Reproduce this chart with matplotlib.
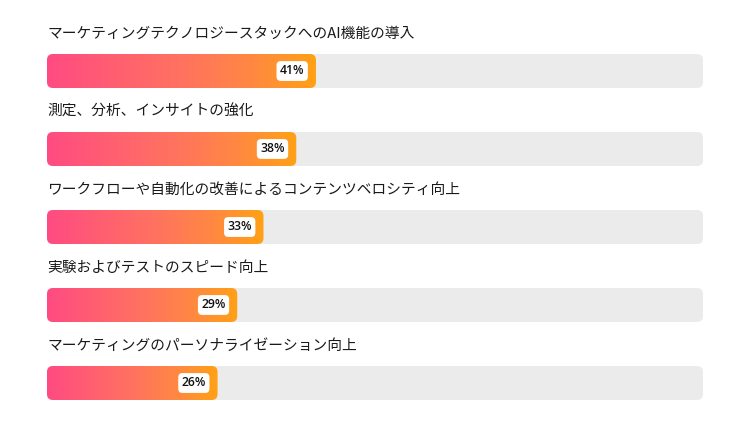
import matplotlib
matplotlib.use("Agg")
import matplotlib.pyplot as plt
import numpy as np
from matplotlib.patches import FancyBboxPatch
from matplotlib.colors import LinearSegmentedColormap

categories = [
    "マーケティングテクノロジースタックへのAI機能の導入",
    "測定、分析、インサイトの強化",
    "ワークフローや自動化の改善によるコンテンツベロシティ向上",
    "実験およびテストのスピード向上",
    "マーケティングのパーソナライゼーション向上",
]
values = [41, 38, 33, 29, 26]
value_labels = ["41%", "38%", "33%", "29%", "26%"]

plt.rcParams['font.family'] = ['Noto Sans CJK JP', 'DejaVu Sans']

W, H = 750, 422
fig = plt.figure(figsize=(W / 100, H / 100), dpi=100)
ax = fig.add_axes([47 / W, 0, 656 / W, 390 / H])
ax.set_xlim(0, 100)
ax.set_ylim(4.5, -0.5)
ax.axis('off')

px_x = 100 / 656.0  # data units per pixel in x
px_y = 5 / 390.0    # data units per pixel in y
aspect = px_y / px_x
bar_h = 34 * px_y
r = 6 * px_x

cmap = LinearSegmentedColormap.from_list(
    "g", [(0, "#FF4B82"), (0.5, "#FF7260"), (0.75, "#FF8744"), (1, "#FFA115")])
grad = np.linspace(0, 1, 256).reshape(1, -1)

for i, (cat, v, lab) in enumerate(zip(categories, values, value_labels)):
    y0 = i - bar_h / 2
    track = FancyBboxPatch((0, y0), 100, bar_h,
                           boxstyle=f"round,pad=0,rounding_size={r}",
                           mutation_aspect=aspect, facecolor="#EBEBEB",
                           edgecolor="none", zorder=1)
    ax.add_patch(track)
    fill = FancyBboxPatch((0, y0), v, bar_h,
                          boxstyle=f"round,pad=0,rounding_size={r}",
                          mutation_aspect=aspect, facecolor="none",
                          edgecolor="none", zorder=2)
    ax.add_patch(fill)
    im = ax.imshow(grad, cmap=cmap, aspect='auto',
                   extent=(0, v, y0 + bar_h, y0), zorder=2,
                   interpolation='bilinear')
    im.set_clip_path(fill)
    ax.text(0, i - 37 * px_y, cat, fontsize=10.6, color="#1a1a1a",
            va='center', ha='left', clip_on=False)
    ax.annotate(lab, xy=(v, i), xytext=(-8.3, 0), textcoords='offset points',
                ha='right', va='center', fontsize=8.8, fontweight='semibold',
                color="#111111", family=['Open Sans', 'DejaVu Sans'], zorder=4,
                bbox=dict(boxstyle="round,pad=0.28,rounding_size=0.35",
                          facecolor="white", edgecolor="none"))

ax.set_xlim(0, 100)
ax.set_ylim(4.5, -0.5)
fig.savefig("out.png", dpi=100)
